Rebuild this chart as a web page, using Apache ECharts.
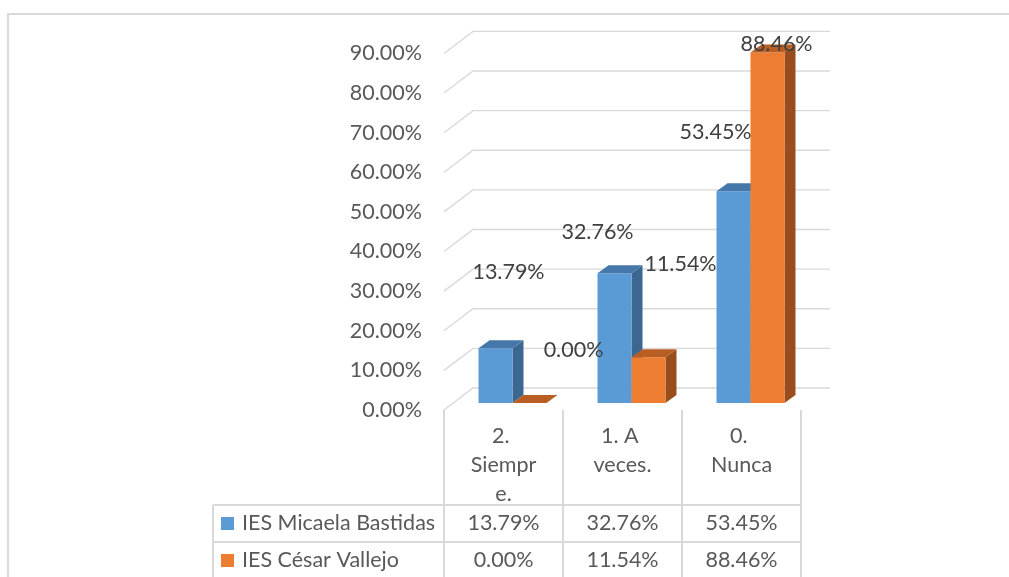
<!DOCTYPE html>
<html>
<head>
<meta charset="utf-8">
<script src="https://cdn.jsdelivr.net/npm/echarts@6/dist/echarts.min.js"></script>
<style>
  html, body { margin: 0; padding: 0; background: #ffffff; }
  #chart { width: 1009px; height: 577px; }
</style>
</head>
<body>
<div id="chart"></div>
<script>
// ---- data ----
const categories = ['2. Siempre.', '1. A veces.', '0. Nunca'];
const seriesNames = ['IES Micaela Bastidas', 'IES César Vallejo'];
const micaela = [13.79, 32.76, 53.45];
const vallejo = [0.00, 11.54, 88.46];
const yTicks = [0, 10, 20, 30, 40, 50, 60, 70, 80, 90];

// ---- styling ----
const FONT = 'Lato, "Open Sans", sans-serif';
const FS = 21.5;
const faces = [
  { front: '#5b9bd5', side: '#3b6790', top: '#4677aa' },
  { front: '#ed7d31', side: '#9a4d1c', top: '#b95e22' }
];
// label nudges (px) from the top centre of each bar's front face
const labelNudge = [
  [[13, -76], [-17, -41], [-18, -59]],
  [[44, -53], [32, -93], [9, -8]]
];

// 3D layout: front plane, bar plane and back wall
const plotW = 357, plotH = 356.6;
const front = { left: 444, base: 410 };
const toBars = [9, -7];      // front plane -> plane where the bars stand
const toBack = [29, -22];    // front plane -> back wall
const barDepth = [11, -8];   // depth of each bar
const barW = 34;

const chart = echarts.init(document.getElementById('chart'), null, { renderer: 'canvas' });

function wallItem(params, api) {
  const cs = params.coordSys;
  const y = api.coord([0, api.value(1)])[1];
  const x0 = cs.x, x1 = cs.x + cs.width;
  return {
    type: 'polyline',
    silent: true,
    shape: { points: [[x0, y], [x0 + toBack[0], y + toBack[1]], [x1 + toBack[0], y + toBack[1]]] },
    style: { stroke: '#d9d9d9', lineWidth: 1.3, fill: null }
  };
}

function barRenderer(s, values) {
  return function (params, api) {
    const i = api.value(0);
    const v = api.value(1);
    const base = api.coord([i, 0]);
    const top = api.coord([i, v]);
    const x0 = base[0] - barW + s * barW;
    const x1 = x0 + barW;
    const dx = barDepth[0], dy = barDepth[1];
    const c = faces[s];
    const nud = labelNudge[s][i];
    return {
      type: 'group',
      children: [
        { type: 'polygon', shape: { points: [[x1, top[1]], [x1 + dx, top[1] + dy], [x1 + dx, base[1] + dy], [x1, base[1]]] }, style: { fill: c.side } },
        { type: 'rect', shape: { x: x0, y: top[1], width: barW, height: base[1] - top[1] }, style: { fill: c.front } },
        { type: 'polygon', shape: { points: [[x0, top[1]], [x0 + dx, top[1] + dy], [x1 + dx, top[1] + dy], [x1, top[1]]] }, style: { fill: c.top } },
        { type: 'text', z2: 10, style: {
            text: values[i].toFixed(2) + '%',
            x: (x0 + x1) / 2 + nud[0], y: top[1] + nud[1],
            align: 'center', verticalAlign: 'middle',
            fill: '#404040', font: FS + 'px ' + FONT } }
      ]
    };
  };
}

// ---- data table under the plot ----
const tbl = {
  left: 213, colX: [444, 563, 682, 801], top: 410, rowY: [505, 542, 579]
};
const graphics = [];
const lineStyle = { stroke: '#d9d9d9', lineWidth: 2 };
tbl.colX.forEach(x => graphics.push({ type: 'line', shape: { x1: x, y1: tbl.top, x2: x, y2: 577 }, style: lineStyle }));
graphics.push({ type: 'line', shape: { x1: tbl.left, y1: tbl.rowY[0], x2: tbl.left, y2: 577 }, style: lineStyle });
tbl.rowY.forEach(y => graphics.push({ type: 'line', shape: { x1: tbl.left, y1: y, x2: tbl.colX[3], y2: y }, style: lineStyle }));
[micaela, vallejo].forEach((vals, r) => {
  const cy = (tbl.rowY[r] + tbl.rowY[r + 1]) / 2;
  vals.forEach((v, c) => {
    graphics.push({ type: 'text', style: {
      text: v.toFixed(2) + '%', x: (tbl.colX[c] + tbl.colX[c + 1]) / 2, y: cy,
      align: 'center', verticalAlign: 'middle', fill: '#595959', font: FS + 'px ' + FONT } });
  });
});
// chart-area border
graphics.push({ type: 'rect', shape: { x: 8, y: 14, width: 1010, height: 580 }, style: { fill: null, stroke: '#d9d9d9', lineWidth: 2 } });

const option = {
  backgroundColor: '#ffffff',
  animation: false,
  textStyle: { fontFamily: FONT },
  legend: {
    orient: 'vertical', left: 221, top: 511.5, padding: 0, selectedMode: false,
    icon: 'rect', itemWidth: 13, itemHeight: 13, itemGap: 13,
    data: seriesNames,
    textStyle: { fontSize: FS, color: '#595959', fontFamily: FONT, lineHeight: 24, padding: [0, 0, 0, 3] }
  },
  grid: [
    { left: front.left, top: front.base - plotH, width: plotW, height: plotH },
    { left: front.left + toBars[0], top: front.base + toBars[1] - plotH, width: plotW, height: plotH }
  ],
  xAxis: [
    { gridIndex: 0, type: 'category', data: categories,
      axisLine: { show: false }, axisTick: { show: false }, splitLine: { show: false },
      axisLabel: { margin: 12, fontSize: FS, color: '#595959', fontFamily: FONT, lineHeight: 29,
        width: 72, overflow: 'break', interval: 0 } },
    { gridIndex: 1, type: 'category', data: categories, show: false }
  ],
  yAxis: [
    { gridIndex: 0, type: 'value', min: 0, max: 90, interval: 10,
      axisLine: { show: false }, axisTick: { show: false }, splitLine: { show: false },
      axisLabel: { margin: 22, fontSize: FS, color: '#595959', fontFamily: FONT,
        formatter: v => v.toFixed(2) + '%' } },
    { gridIndex: 1, type: 'value', min: 0, max: 90, interval: 10, show: false }
  ],
  series: [
    { type: 'custom', name: 'walls', xAxisIndex: 0, yAxisIndex: 0, silent: true,
      itemStyle: { color: '#d9d9d9' },
      data: yTicks.map(v => [0, v]), encode: { x: 0, y: 1 }, renderItem: wallItem },
    { type: 'custom', name: seriesNames[0], xAxisIndex: 1, yAxisIndex: 1,
      itemStyle: { color: faces[0].front },
      data: micaela.map((v, i) => [i, v]), encode: { x: 0, y: 1 }, renderItem: barRenderer(0, micaela) },
    { type: 'custom', name: seriesNames[1], xAxisIndex: 1, yAxisIndex: 1,
      itemStyle: { color: faces[1].front },
      data: vallejo.map((v, i) => [i, v]), encode: { x: 0, y: 1 }, renderItem: barRenderer(1, vallejo) }
  ],
  graphic: graphics
};
chart.setOption(option);
</script>
</body>
</html>
